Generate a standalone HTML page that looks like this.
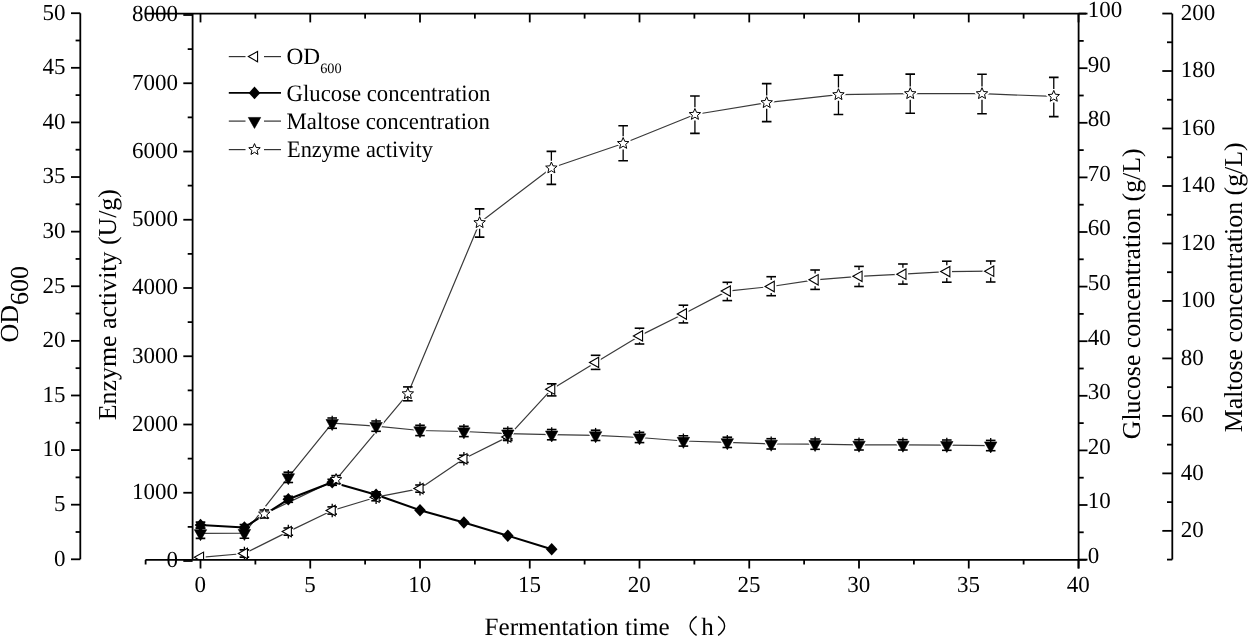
<!DOCTYPE html>
<html><head><meta charset="utf-8"><style>
html,body{margin:0;padding:0;background:#fff;width:1248px;height:637px;overflow:hidden}
svg{display:block;will-change:transform;text-rendering:geometricPrecision}
text{font-family:"Liberation Serif",serif}
</style></head><body>
<svg width="1248" height="637" viewBox="0 0 1248 637" font-family="Liberation Serif, serif" fill="#000"><defs><clipPath id="pc"><rect x="192.6" y="13.6" width="886" height="546.3"/></clipPath></defs><g clip-path="url(#pc)">
<polyline points="244.40,527.30 264.30,514.00 336.07,479.60 407.84,393.80 479.61,222.70 551.38,168.00 623.15,143.50 694.92,114.50 766.69,102.70 838.46,94.70 910.23,93.70 982.00,93.70 1053.77,96.40" fill="none" stroke="#3a3a3a" stroke-width="1.2" stroke-linejoin="round"/>
<polyline points="200.50,557.30 244.40,553.50 288.30,531.60 332.20,510.50 376.10,497.20 420.00,488.60 463.90,458.80 507.80,436.90 551.70,389.20 595.60,362.40 639.50,335.90 683.40,314.00 727.30,291.10 771.20,286.50 815.10,279.80 859.00,276.30 902.90,274.20 946.80,271.60 990.70,271.20" fill="none" stroke="#3a3a3a" stroke-width="1.2" stroke-linejoin="round"/>
<polyline points="200.50,533.30 244.40,533.10 288.30,477.40 332.20,423.20 376.10,426.20 420.00,430.50 463.90,431.50 507.80,433.70 551.70,434.70 595.60,435.40 639.50,437.50 683.40,441.00 727.30,442.40 771.20,443.90 815.10,444.20 859.00,444.90 902.90,444.90 946.80,445.20 990.70,445.60" fill="none" stroke="#3a3a3a" stroke-width="1.2" stroke-linejoin="round"/>
<polyline points="200.50,525.10 244.40,527.50 288.30,499.30 332.20,482.30 376.10,494.80 420.00,510.20 463.90,522.50 507.80,535.70 551.70,549.20" fill="none" stroke="#000" stroke-width="2.0" stroke-linejoin="round"/>
<path d="M194.37,557.30 L203.57,552.10 L203.57,562.50 Z" fill="#fff" stroke="#fff" stroke-width="4.2" stroke-linejoin="round"/>
<path d="M238.27,553.50 L247.47,548.30 L247.47,558.70 Z" fill="#fff" stroke="#fff" stroke-width="4.2" stroke-linejoin="round"/>
<path d="M282.17,531.60 L291.37,526.40 L291.37,536.80 Z" fill="#fff" stroke="#fff" stroke-width="4.2" stroke-linejoin="round"/>
<path d="M326.07,510.50 L335.27,505.30 L335.27,515.70 Z" fill="#fff" stroke="#fff" stroke-width="4.2" stroke-linejoin="round"/>
<path d="M369.97,497.20 L379.17,492.00 L379.17,502.40 Z" fill="#fff" stroke="#fff" stroke-width="4.2" stroke-linejoin="round"/>
<path d="M413.87,488.60 L423.07,483.40 L423.07,493.80 Z" fill="#fff" stroke="#fff" stroke-width="4.2" stroke-linejoin="round"/>
<path d="M457.77,458.80 L466.97,453.60 L466.97,464.00 Z" fill="#fff" stroke="#fff" stroke-width="4.2" stroke-linejoin="round"/>
<path d="M501.67,436.90 L510.87,431.70 L510.87,442.10 Z" fill="#fff" stroke="#fff" stroke-width="4.2" stroke-linejoin="round"/>
<path d="M545.57,389.20 L554.77,384.00 L554.77,394.40 Z" fill="#fff" stroke="#fff" stroke-width="4.2" stroke-linejoin="round"/>
<path d="M589.47,362.40 L598.67,357.20 L598.67,367.60 Z" fill="#fff" stroke="#fff" stroke-width="4.2" stroke-linejoin="round"/>
<path d="M633.37,335.90 L642.57,330.70 L642.57,341.10 Z" fill="#fff" stroke="#fff" stroke-width="4.2" stroke-linejoin="round"/>
<path d="M677.27,314.00 L686.47,308.80 L686.47,319.20 Z" fill="#fff" stroke="#fff" stroke-width="4.2" stroke-linejoin="round"/>
<path d="M721.17,291.10 L730.37,285.90 L730.37,296.30 Z" fill="#fff" stroke="#fff" stroke-width="4.2" stroke-linejoin="round"/>
<path d="M765.07,286.50 L774.27,281.30 L774.27,291.70 Z" fill="#fff" stroke="#fff" stroke-width="4.2" stroke-linejoin="round"/>
<path d="M808.97,279.80 L818.17,274.60 L818.17,285.00 Z" fill="#fff" stroke="#fff" stroke-width="4.2" stroke-linejoin="round"/>
<path d="M852.87,276.30 L862.07,271.10 L862.07,281.50 Z" fill="#fff" stroke="#fff" stroke-width="4.2" stroke-linejoin="round"/>
<path d="M896.77,274.20 L905.97,269.00 L905.97,279.40 Z" fill="#fff" stroke="#fff" stroke-width="4.2" stroke-linejoin="round"/>
<path d="M940.67,271.60 L949.87,266.40 L949.87,276.80 Z" fill="#fff" stroke="#fff" stroke-width="4.2" stroke-linejoin="round"/>
<path d="M984.57,271.20 L993.77,266.00 L993.77,276.40 Z" fill="#fff" stroke="#fff" stroke-width="4.2" stroke-linejoin="round"/>
<path d="M264.30,508.00 L265.89,511.82 L270.01,512.15 L266.87,514.83 L267.83,518.85 L264.30,516.70 L260.77,518.85 L261.73,514.83 L258.59,512.15 L262.71,511.82 Z" fill="#fff" stroke="#fff" stroke-width="4.2" stroke-linejoin="round"/>
<path d="M336.07,473.60 L337.66,477.42 L341.78,477.75 L338.64,480.43 L339.60,484.45 L336.07,482.30 L332.54,484.45 L333.50,480.43 L330.36,477.75 L334.48,477.42 Z" fill="#fff" stroke="#fff" stroke-width="4.2" stroke-linejoin="round"/>
<path d="M407.84,387.80 L409.43,391.62 L413.55,391.95 L410.41,394.63 L411.37,398.65 L407.84,396.50 L404.31,398.65 L405.27,394.63 L402.13,391.95 L406.25,391.62 Z" fill="#fff" stroke="#fff" stroke-width="4.2" stroke-linejoin="round"/>
<path d="M479.61,216.70 L481.20,220.52 L485.32,220.85 L482.18,223.53 L483.14,227.55 L479.61,225.40 L476.08,227.55 L477.04,223.53 L473.90,220.85 L478.02,220.52 Z" fill="#fff" stroke="#fff" stroke-width="4.2" stroke-linejoin="round"/>
<path d="M551.38,162.00 L552.97,165.82 L557.09,166.15 L553.95,168.83 L554.91,172.85 L551.38,170.70 L547.85,172.85 L548.81,168.83 L545.67,166.15 L549.79,165.82 Z" fill="#fff" stroke="#fff" stroke-width="4.2" stroke-linejoin="round"/>
<path d="M623.15,137.50 L624.74,141.32 L628.86,141.65 L625.72,144.33 L626.68,148.35 L623.15,146.20 L619.62,148.35 L620.58,144.33 L617.44,141.65 L621.56,141.32 Z" fill="#fff" stroke="#fff" stroke-width="4.2" stroke-linejoin="round"/>
<path d="M694.92,108.50 L696.51,112.32 L700.63,112.65 L697.49,115.33 L698.45,119.35 L694.92,117.20 L691.39,119.35 L692.35,115.33 L689.21,112.65 L693.33,112.32 Z" fill="#fff" stroke="#fff" stroke-width="4.2" stroke-linejoin="round"/>
<path d="M766.69,96.70 L768.28,100.52 L772.40,100.85 L769.26,103.53 L770.22,107.55 L766.69,105.40 L763.16,107.55 L764.12,103.53 L760.98,100.85 L765.10,100.52 Z" fill="#fff" stroke="#fff" stroke-width="4.2" stroke-linejoin="round"/>
<path d="M838.46,88.70 L840.05,92.52 L844.17,92.85 L841.03,95.53 L841.99,99.55 L838.46,97.40 L834.93,99.55 L835.89,95.53 L832.75,92.85 L836.87,92.52 Z" fill="#fff" stroke="#fff" stroke-width="4.2" stroke-linejoin="round"/>
<path d="M910.23,87.70 L911.82,91.52 L915.94,91.85 L912.80,94.53 L913.76,98.55 L910.23,96.40 L906.70,98.55 L907.66,94.53 L904.52,91.85 L908.64,91.52 Z" fill="#fff" stroke="#fff" stroke-width="4.2" stroke-linejoin="round"/>
<path d="M982.00,87.70 L983.59,91.52 L987.71,91.85 L984.57,94.53 L985.53,98.55 L982.00,96.40 L978.47,98.55 L979.43,94.53 L976.29,91.85 L980.41,91.52 Z" fill="#fff" stroke="#fff" stroke-width="4.2" stroke-linejoin="round"/>
<path d="M1053.77,90.40 L1055.36,94.22 L1059.48,94.55 L1056.34,97.23 L1057.30,101.25 L1053.77,99.10 L1050.24,101.25 L1051.20,97.23 L1048.06,94.55 L1052.18,94.22 Z" fill="#fff" stroke="#fff" stroke-width="4.2" stroke-linejoin="round"/>
<path d="M369.90,422.53 L382.30,422.53 L376.10,433.53 Z" stroke="#fff" stroke-width="3.2" stroke-linejoin="round" fill="#fff"/>
<path d="M413.80,426.83 L426.20,426.83 L420.00,437.83 Z" stroke="#fff" stroke-width="3.2" stroke-linejoin="round" fill="#fff"/>
<path d="M457.70,427.83 L470.10,427.83 L463.90,438.83 Z" stroke="#fff" stroke-width="3.2" stroke-linejoin="round" fill="#fff"/>
<path d="M501.60,430.03 L514.00,430.03 L507.80,441.03 Z" stroke="#fff" stroke-width="3.2" stroke-linejoin="round" fill="#fff"/>
<path d="M545.50,431.03 L557.90,431.03 L551.70,442.03 Z" stroke="#fff" stroke-width="3.2" stroke-linejoin="round" fill="#fff"/>
<path d="M589.40,431.73 L601.80,431.73 L595.60,442.73 Z" stroke="#fff" stroke-width="3.2" stroke-linejoin="round" fill="#fff"/>
<path d="M633.30,433.83 L645.70,433.83 L639.50,444.83 Z" stroke="#fff" stroke-width="3.2" stroke-linejoin="round" fill="#fff"/>
<path d="M677.20,437.33 L689.60,437.33 L683.40,448.33 Z" stroke="#fff" stroke-width="3.2" stroke-linejoin="round" fill="#fff"/>
<path d="M721.10,438.73 L733.50,438.73 L727.30,449.73 Z" stroke="#fff" stroke-width="3.2" stroke-linejoin="round" fill="#fff"/>
<path d="M765.00,440.23 L777.40,440.23 L771.20,451.23 Z" stroke="#fff" stroke-width="3.2" stroke-linejoin="round" fill="#fff"/>
<path d="M808.90,440.53 L821.30,440.53 L815.10,451.53 Z" stroke="#fff" stroke-width="3.2" stroke-linejoin="round" fill="#fff"/>
<path d="M852.80,441.23 L865.20,441.23 L859.00,452.23 Z" stroke="#fff" stroke-width="3.2" stroke-linejoin="round" fill="#fff"/>
<path d="M896.70,441.23 L909.10,441.23 L902.90,452.23 Z" stroke="#fff" stroke-width="3.2" stroke-linejoin="round" fill="#fff"/>
<path d="M940.60,441.53 L953.00,441.53 L946.80,452.53 Z" stroke="#fff" stroke-width="3.2" stroke-linejoin="round" fill="#fff"/>
<path d="M984.50,441.93 L996.90,441.93 L990.70,452.93 Z" stroke="#fff" stroke-width="3.2" stroke-linejoin="round" fill="#fff"/>
<line x1="244.40" y1="546.70" x2="244.40" y2="560.30" stroke="#000" stroke-width="1.3" />
<line x1="239.60" y1="549.90" x2="249.20" y2="549.90" stroke="#000" stroke-width="1.6" />
<line x1="239.60" y1="557.10" x2="249.20" y2="557.10" stroke="#000" stroke-width="1.6" />
<line x1="288.30" y1="524.80" x2="288.30" y2="538.40" stroke="#000" stroke-width="1.3" />
<line x1="283.50" y1="528.00" x2="293.10" y2="528.00" stroke="#000" stroke-width="1.6" />
<line x1="283.50" y1="535.20" x2="293.10" y2="535.20" stroke="#000" stroke-width="1.6" />
<line x1="332.20" y1="503.70" x2="332.20" y2="517.30" stroke="#000" stroke-width="1.3" />
<line x1="327.40" y1="506.90" x2="337.00" y2="506.90" stroke="#000" stroke-width="1.6" />
<line x1="327.40" y1="514.10" x2="337.00" y2="514.10" stroke="#000" stroke-width="1.6" />
<line x1="376.10" y1="490.40" x2="376.10" y2="504.00" stroke="#000" stroke-width="1.3" />
<line x1="371.30" y1="493.60" x2="380.90" y2="493.60" stroke="#000" stroke-width="1.6" />
<line x1="371.30" y1="500.80" x2="380.90" y2="500.80" stroke="#000" stroke-width="1.6" />
<line x1="420.00" y1="481.80" x2="420.00" y2="495.40" stroke="#000" stroke-width="1.3" />
<line x1="415.20" y1="485.00" x2="424.80" y2="485.00" stroke="#000" stroke-width="1.6" />
<line x1="415.20" y1="492.20" x2="424.80" y2="492.20" stroke="#000" stroke-width="1.6" />
<line x1="463.90" y1="452.00" x2="463.90" y2="465.60" stroke="#000" stroke-width="1.3" />
<line x1="459.10" y1="455.20" x2="468.70" y2="455.20" stroke="#000" stroke-width="1.6" />
<line x1="459.10" y1="462.40" x2="468.70" y2="462.40" stroke="#000" stroke-width="1.6" />
<line x1="507.80" y1="430.10" x2="507.80" y2="443.70" stroke="#000" stroke-width="1.3" />
<line x1="503.00" y1="433.30" x2="512.60" y2="433.30" stroke="#000" stroke-width="1.6" />
<line x1="503.00" y1="440.50" x2="512.60" y2="440.50" stroke="#000" stroke-width="1.6" />
<line x1="551.70" y1="383.80" x2="551.70" y2="395.90" stroke="#000" stroke-width="1.3" />
<line x1="546.90" y1="383.80" x2="556.50" y2="383.80" stroke="#000" stroke-width="1.6" />
<line x1="546.90" y1="395.90" x2="556.50" y2="395.90" stroke="#000" stroke-width="1.6" />
<line x1="595.60" y1="355.30" x2="595.60" y2="356.00" stroke="#000" stroke-width="1.3" />
<line x1="595.60" y1="368.80" x2="595.60" y2="369.40" stroke="#000" stroke-width="1.3" />
<line x1="590.80" y1="355.30" x2="600.40" y2="355.30" stroke="#000" stroke-width="1.6" />
<line x1="590.80" y1="369.40" x2="600.40" y2="369.40" stroke="#000" stroke-width="1.6" />
<line x1="639.50" y1="328.20" x2="639.50" y2="329.50" stroke="#000" stroke-width="1.3" />
<line x1="639.50" y1="342.30" x2="639.50" y2="344.00" stroke="#000" stroke-width="1.3" />
<line x1="634.70" y1="328.20" x2="644.30" y2="328.20" stroke="#000" stroke-width="1.6" />
<line x1="634.70" y1="344.00" x2="644.30" y2="344.00" stroke="#000" stroke-width="1.6" />
<line x1="683.40" y1="305.20" x2="683.40" y2="307.60" stroke="#000" stroke-width="1.3" />
<line x1="683.40" y1="320.40" x2="683.40" y2="322.90" stroke="#000" stroke-width="1.3" />
<line x1="678.60" y1="305.20" x2="688.20" y2="305.20" stroke="#000" stroke-width="1.6" />
<line x1="678.60" y1="322.90" x2="688.20" y2="322.90" stroke="#000" stroke-width="1.6" />
<line x1="727.30" y1="282.30" x2="727.30" y2="284.70" stroke="#000" stroke-width="1.3" />
<line x1="727.30" y1="297.50" x2="727.30" y2="300.60" stroke="#000" stroke-width="1.3" />
<line x1="722.50" y1="282.30" x2="732.10" y2="282.30" stroke="#000" stroke-width="1.6" />
<line x1="722.50" y1="300.60" x2="732.10" y2="300.60" stroke="#000" stroke-width="1.6" />
<line x1="771.20" y1="276.70" x2="771.20" y2="280.10" stroke="#000" stroke-width="1.3" />
<line x1="771.20" y1="292.90" x2="771.20" y2="295.70" stroke="#000" stroke-width="1.3" />
<line x1="766.40" y1="276.70" x2="776.00" y2="276.70" stroke="#000" stroke-width="1.6" />
<line x1="766.40" y1="295.70" x2="776.00" y2="295.70" stroke="#000" stroke-width="1.6" />
<line x1="815.10" y1="270.00" x2="815.10" y2="273.40" stroke="#000" stroke-width="1.3" />
<line x1="815.10" y1="286.20" x2="815.10" y2="289.40" stroke="#000" stroke-width="1.3" />
<line x1="810.30" y1="270.00" x2="819.90" y2="270.00" stroke="#000" stroke-width="1.6" />
<line x1="810.30" y1="289.40" x2="819.90" y2="289.40" stroke="#000" stroke-width="1.6" />
<line x1="859.00" y1="266.40" x2="859.00" y2="269.90" stroke="#000" stroke-width="1.3" />
<line x1="859.00" y1="282.70" x2="859.00" y2="286.50" stroke="#000" stroke-width="1.3" />
<line x1="854.20" y1="266.40" x2="863.80" y2="266.40" stroke="#000" stroke-width="1.6" />
<line x1="854.20" y1="286.50" x2="863.80" y2="286.50" stroke="#000" stroke-width="1.6" />
<line x1="902.90" y1="264.00" x2="902.90" y2="267.80" stroke="#000" stroke-width="1.3" />
<line x1="902.90" y1="280.60" x2="902.90" y2="284.10" stroke="#000" stroke-width="1.3" />
<line x1="898.10" y1="264.00" x2="907.70" y2="264.00" stroke="#000" stroke-width="1.6" />
<line x1="898.10" y1="284.10" x2="907.70" y2="284.10" stroke="#000" stroke-width="1.6" />
<line x1="946.80" y1="261.20" x2="946.80" y2="265.20" stroke="#000" stroke-width="1.3" />
<line x1="946.80" y1="278.00" x2="946.80" y2="282.20" stroke="#000" stroke-width="1.3" />
<line x1="942.00" y1="261.20" x2="951.60" y2="261.20" stroke="#000" stroke-width="1.6" />
<line x1="942.00" y1="282.20" x2="951.60" y2="282.20" stroke="#000" stroke-width="1.6" />
<line x1="990.70" y1="261.00" x2="990.70" y2="264.80" stroke="#000" stroke-width="1.3" />
<line x1="990.70" y1="277.60" x2="990.70" y2="282.00" stroke="#000" stroke-width="1.3" />
<line x1="985.90" y1="261.00" x2="995.50" y2="261.00" stroke="#000" stroke-width="1.6" />
<line x1="985.90" y1="282.00" x2="995.50" y2="282.00" stroke="#000" stroke-width="1.6" />
<line x1="200.50" y1="525.80" x2="200.50" y2="538.40" stroke="#000" stroke-width="1.3" />
<line x1="195.70" y1="528.10" x2="205.30" y2="528.10" stroke="#000" stroke-width="1.6" />
<line x1="195.70" y1="538.40" x2="205.30" y2="538.40" stroke="#000" stroke-width="1.6" />
<line x1="244.40" y1="525.60" x2="244.40" y2="538.20" stroke="#000" stroke-width="1.3" />
<line x1="239.60" y1="527.90" x2="249.20" y2="527.90" stroke="#000" stroke-width="1.6" />
<line x1="239.60" y1="538.20" x2="249.20" y2="538.20" stroke="#000" stroke-width="1.6" />
<line x1="288.30" y1="469.90" x2="288.30" y2="482.50" stroke="#000" stroke-width="1.3" />
<line x1="283.50" y1="472.20" x2="293.10" y2="472.20" stroke="#000" stroke-width="1.6" />
<line x1="283.50" y1="482.50" x2="293.10" y2="482.50" stroke="#000" stroke-width="1.6" />
<line x1="332.20" y1="415.70" x2="332.20" y2="428.30" stroke="#000" stroke-width="1.3" />
<line x1="327.40" y1="418.00" x2="337.00" y2="418.00" stroke="#000" stroke-width="1.6" />
<line x1="327.40" y1="428.30" x2="337.00" y2="428.30" stroke="#000" stroke-width="1.6" />
<line x1="376.10" y1="418.70" x2="376.10" y2="431.30" stroke="#000" stroke-width="1.3" />
<line x1="371.30" y1="421.00" x2="380.90" y2="421.00" stroke="#000" stroke-width="1.6" />
<line x1="371.30" y1="431.30" x2="380.90" y2="431.30" stroke="#000" stroke-width="1.6" />
<line x1="420.00" y1="423.00" x2="420.00" y2="435.60" stroke="#000" stroke-width="1.3" />
<line x1="415.20" y1="425.30" x2="424.80" y2="425.30" stroke="#000" stroke-width="1.6" />
<line x1="415.20" y1="435.60" x2="424.80" y2="435.60" stroke="#000" stroke-width="1.6" />
<line x1="463.90" y1="424.00" x2="463.90" y2="436.60" stroke="#000" stroke-width="1.3" />
<line x1="459.10" y1="426.30" x2="468.70" y2="426.30" stroke="#000" stroke-width="1.6" />
<line x1="459.10" y1="436.60" x2="468.70" y2="436.60" stroke="#000" stroke-width="1.6" />
<line x1="507.80" y1="426.20" x2="507.80" y2="438.80" stroke="#000" stroke-width="1.3" />
<line x1="503.00" y1="428.50" x2="512.60" y2="428.50" stroke="#000" stroke-width="1.6" />
<line x1="503.00" y1="438.80" x2="512.60" y2="438.80" stroke="#000" stroke-width="1.6" />
<line x1="551.70" y1="427.20" x2="551.70" y2="439.80" stroke="#000" stroke-width="1.3" />
<line x1="546.90" y1="429.50" x2="556.50" y2="429.50" stroke="#000" stroke-width="1.6" />
<line x1="546.90" y1="439.80" x2="556.50" y2="439.80" stroke="#000" stroke-width="1.6" />
<line x1="595.60" y1="427.90" x2="595.60" y2="440.50" stroke="#000" stroke-width="1.3" />
<line x1="590.80" y1="430.20" x2="600.40" y2="430.20" stroke="#000" stroke-width="1.6" />
<line x1="590.80" y1="440.50" x2="600.40" y2="440.50" stroke="#000" stroke-width="1.6" />
<line x1="639.50" y1="430.00" x2="639.50" y2="442.60" stroke="#000" stroke-width="1.3" />
<line x1="634.70" y1="432.30" x2="644.30" y2="432.30" stroke="#000" stroke-width="1.6" />
<line x1="634.70" y1="442.60" x2="644.30" y2="442.60" stroke="#000" stroke-width="1.6" />
<line x1="683.40" y1="433.50" x2="683.40" y2="446.10" stroke="#000" stroke-width="1.3" />
<line x1="678.60" y1="435.80" x2="688.20" y2="435.80" stroke="#000" stroke-width="1.6" />
<line x1="678.60" y1="446.10" x2="688.20" y2="446.10" stroke="#000" stroke-width="1.6" />
<line x1="727.30" y1="434.90" x2="727.30" y2="447.50" stroke="#000" stroke-width="1.3" />
<line x1="722.50" y1="437.20" x2="732.10" y2="437.20" stroke="#000" stroke-width="1.6" />
<line x1="722.50" y1="447.50" x2="732.10" y2="447.50" stroke="#000" stroke-width="1.6" />
<line x1="771.20" y1="436.40" x2="771.20" y2="449.00" stroke="#000" stroke-width="1.3" />
<line x1="766.40" y1="438.70" x2="776.00" y2="438.70" stroke="#000" stroke-width="1.6" />
<line x1="766.40" y1="449.00" x2="776.00" y2="449.00" stroke="#000" stroke-width="1.6" />
<line x1="815.10" y1="436.70" x2="815.10" y2="449.30" stroke="#000" stroke-width="1.3" />
<line x1="810.30" y1="439.00" x2="819.90" y2="439.00" stroke="#000" stroke-width="1.6" />
<line x1="810.30" y1="449.30" x2="819.90" y2="449.30" stroke="#000" stroke-width="1.6" />
<line x1="859.00" y1="437.40" x2="859.00" y2="450.00" stroke="#000" stroke-width="1.3" />
<line x1="854.20" y1="439.70" x2="863.80" y2="439.70" stroke="#000" stroke-width="1.6" />
<line x1="854.20" y1="450.00" x2="863.80" y2="450.00" stroke="#000" stroke-width="1.6" />
<line x1="902.90" y1="437.40" x2="902.90" y2="450.00" stroke="#000" stroke-width="1.3" />
<line x1="898.10" y1="439.70" x2="907.70" y2="439.70" stroke="#000" stroke-width="1.6" />
<line x1="898.10" y1="450.00" x2="907.70" y2="450.00" stroke="#000" stroke-width="1.6" />
<line x1="946.80" y1="437.70" x2="946.80" y2="450.30" stroke="#000" stroke-width="1.3" />
<line x1="942.00" y1="440.00" x2="951.60" y2="440.00" stroke="#000" stroke-width="1.6" />
<line x1="942.00" y1="450.30" x2="951.60" y2="450.30" stroke="#000" stroke-width="1.6" />
<line x1="990.70" y1="438.10" x2="990.70" y2="450.70" stroke="#000" stroke-width="1.3" />
<line x1="985.90" y1="440.40" x2="995.50" y2="440.40" stroke="#000" stroke-width="1.6" />
<line x1="985.90" y1="450.70" x2="995.50" y2="450.70" stroke="#000" stroke-width="1.6" />
<line x1="200.50" y1="522.10" x2="200.50" y2="528.10" stroke="#000" stroke-width="1.3" />
<line x1="195.70" y1="522.10" x2="205.30" y2="522.10" stroke="#000" stroke-width="1.6" />
<line x1="195.70" y1="528.10" x2="205.30" y2="528.10" stroke="#000" stroke-width="1.6" />
<line x1="244.40" y1="524.50" x2="244.40" y2="530.50" stroke="#000" stroke-width="1.3" />
<line x1="239.60" y1="524.50" x2="249.20" y2="524.50" stroke="#000" stroke-width="1.6" />
<line x1="239.60" y1="530.50" x2="249.20" y2="530.50" stroke="#000" stroke-width="1.6" />
<line x1="288.30" y1="496.30" x2="288.30" y2="502.30" stroke="#000" stroke-width="1.3" />
<line x1="283.50" y1="496.30" x2="293.10" y2="496.30" stroke="#000" stroke-width="1.6" />
<line x1="283.50" y1="502.30" x2="293.10" y2="502.30" stroke="#000" stroke-width="1.6" />
<line x1="332.20" y1="479.30" x2="332.20" y2="485.30" stroke="#000" stroke-width="1.3" />
<line x1="327.40" y1="479.30" x2="337.00" y2="479.30" stroke="#000" stroke-width="1.6" />
<line x1="327.40" y1="485.30" x2="337.00" y2="485.30" stroke="#000" stroke-width="1.6" />
<line x1="376.10" y1="491.80" x2="376.10" y2="497.80" stroke="#000" stroke-width="1.3" />
<line x1="371.30" y1="491.80" x2="380.90" y2="491.80" stroke="#000" stroke-width="1.6" />
<line x1="371.30" y1="497.80" x2="380.90" y2="497.80" stroke="#000" stroke-width="1.6" />
<line x1="407.84" y1="386.90" x2="407.84" y2="400.80" stroke="#000" stroke-width="1.3" />
<line x1="403.04" y1="386.90" x2="412.64" y2="386.90" stroke="#000" stroke-width="1.6" />
<line x1="403.04" y1="400.80" x2="412.64" y2="400.80" stroke="#000" stroke-width="1.6" />
<line x1="479.61" y1="208.90" x2="479.61" y2="215.40" stroke="#000" stroke-width="1.3" />
<line x1="479.61" y1="228.80" x2="479.61" y2="237.10" stroke="#000" stroke-width="1.3" />
<line x1="474.81" y1="208.90" x2="484.41" y2="208.90" stroke="#000" stroke-width="1.6" />
<line x1="474.81" y1="237.10" x2="484.41" y2="237.10" stroke="#000" stroke-width="1.6" />
<line x1="551.38" y1="151.40" x2="551.38" y2="160.70" stroke="#000" stroke-width="1.3" />
<line x1="551.38" y1="174.10" x2="551.38" y2="184.40" stroke="#000" stroke-width="1.3" />
<line x1="546.58" y1="151.40" x2="556.18" y2="151.40" stroke="#000" stroke-width="1.6" />
<line x1="546.58" y1="184.40" x2="556.18" y2="184.40" stroke="#000" stroke-width="1.6" />
<line x1="623.15" y1="125.70" x2="623.15" y2="136.20" stroke="#000" stroke-width="1.3" />
<line x1="623.15" y1="149.60" x2="623.15" y2="160.80" stroke="#000" stroke-width="1.3" />
<line x1="618.35" y1="125.70" x2="627.95" y2="125.70" stroke="#000" stroke-width="1.6" />
<line x1="618.35" y1="160.80" x2="627.95" y2="160.80" stroke="#000" stroke-width="1.6" />
<line x1="694.92" y1="96.00" x2="694.92" y2="107.20" stroke="#000" stroke-width="1.3" />
<line x1="694.92" y1="120.60" x2="694.92" y2="133.40" stroke="#000" stroke-width="1.3" />
<line x1="690.12" y1="96.00" x2="699.72" y2="96.00" stroke="#000" stroke-width="1.6" />
<line x1="690.12" y1="133.40" x2="699.72" y2="133.40" stroke="#000" stroke-width="1.6" />
<line x1="766.69" y1="83.60" x2="766.69" y2="95.40" stroke="#000" stroke-width="1.3" />
<line x1="766.69" y1="108.80" x2="766.69" y2="121.60" stroke="#000" stroke-width="1.3" />
<line x1="761.89" y1="83.60" x2="771.49" y2="83.60" stroke="#000" stroke-width="1.6" />
<line x1="761.89" y1="121.60" x2="771.49" y2="121.60" stroke="#000" stroke-width="1.6" />
<line x1="838.46" y1="75.10" x2="838.46" y2="87.40" stroke="#000" stroke-width="1.3" />
<line x1="838.46" y1="100.80" x2="838.46" y2="114.50" stroke="#000" stroke-width="1.3" />
<line x1="833.66" y1="75.10" x2="843.26" y2="75.10" stroke="#000" stroke-width="1.6" />
<line x1="833.66" y1="114.50" x2="843.26" y2="114.50" stroke="#000" stroke-width="1.6" />
<line x1="910.23" y1="74.10" x2="910.23" y2="86.40" stroke="#000" stroke-width="1.3" />
<line x1="910.23" y1="99.80" x2="910.23" y2="113.20" stroke="#000" stroke-width="1.3" />
<line x1="905.43" y1="74.10" x2="915.03" y2="74.10" stroke="#000" stroke-width="1.6" />
<line x1="905.43" y1="113.20" x2="915.03" y2="113.20" stroke="#000" stroke-width="1.6" />
<line x1="982.00" y1="74.20" x2="982.00" y2="86.40" stroke="#000" stroke-width="1.3" />
<line x1="982.00" y1="99.80" x2="982.00" y2="113.70" stroke="#000" stroke-width="1.3" />
<line x1="977.20" y1="74.20" x2="986.80" y2="74.20" stroke="#000" stroke-width="1.6" />
<line x1="977.20" y1="113.70" x2="986.80" y2="113.70" stroke="#000" stroke-width="1.6" />
<line x1="1053.77" y1="77.40" x2="1053.77" y2="89.10" stroke="#000" stroke-width="1.3" />
<line x1="1053.77" y1="102.50" x2="1053.77" y2="116.60" stroke="#000" stroke-width="1.3" />
<line x1="1048.97" y1="77.40" x2="1058.57" y2="77.40" stroke="#000" stroke-width="1.6" />
<line x1="1048.97" y1="116.60" x2="1058.57" y2="116.60" stroke="#000" stroke-width="1.6" />
<line x1="264.30" y1="510.00" x2="264.30" y2="518.00" stroke="#000" stroke-width="1.3" />
<line x1="259.50" y1="510.00" x2="269.10" y2="510.00" stroke="#000" stroke-width="1.6" />
<line x1="259.50" y1="518.00" x2="269.10" y2="518.00" stroke="#000" stroke-width="1.6" />
<line x1="336.07" y1="475.60" x2="336.07" y2="483.60" stroke="#000" stroke-width="1.3" />
<line x1="331.27" y1="475.60" x2="340.87" y2="475.60" stroke="#000" stroke-width="1.6" />
<line x1="331.27" y1="483.60" x2="340.87" y2="483.60" stroke="#000" stroke-width="1.6" />
<path d="M194.37,557.30 L203.57,552.10 L203.57,562.50 Z" fill="#fff" stroke="#000" stroke-width="1.1"/>
<path d="M238.27,553.50 L247.47,548.30 L247.47,558.70 Z" fill="#fff" stroke="#000" stroke-width="1.1"/>
<path d="M282.17,531.60 L291.37,526.40 L291.37,536.80 Z" fill="#fff" stroke="#000" stroke-width="1.1"/>
<path d="M326.07,510.50 L335.27,505.30 L335.27,515.70 Z" fill="#fff" stroke="#000" stroke-width="1.1"/>
<path d="M369.97,497.20 L379.17,492.00 L379.17,502.40 Z" fill="#fff" stroke="#000" stroke-width="1.1"/>
<path d="M413.87,488.60 L423.07,483.40 L423.07,493.80 Z" fill="#fff" stroke="#000" stroke-width="1.1"/>
<path d="M457.77,458.80 L466.97,453.60 L466.97,464.00 Z" fill="#fff" stroke="#000" stroke-width="1.1"/>
<path d="M501.67,436.90 L510.87,431.70 L510.87,442.10 Z" fill="#fff" stroke="#000" stroke-width="1.1"/>
<path d="M545.57,389.20 L554.77,384.00 L554.77,394.40 Z" fill="#fff" stroke="#000" stroke-width="1.1"/>
<path d="M589.47,362.40 L598.67,357.20 L598.67,367.60 Z" fill="#fff" stroke="#000" stroke-width="1.1"/>
<path d="M633.37,335.90 L642.57,330.70 L642.57,341.10 Z" fill="#fff" stroke="#000" stroke-width="1.1"/>
<path d="M677.27,314.00 L686.47,308.80 L686.47,319.20 Z" fill="#fff" stroke="#000" stroke-width="1.1"/>
<path d="M721.17,291.10 L730.37,285.90 L730.37,296.30 Z" fill="#fff" stroke="#000" stroke-width="1.1"/>
<path d="M765.07,286.50 L774.27,281.30 L774.27,291.70 Z" fill="#fff" stroke="#000" stroke-width="1.1"/>
<path d="M808.97,279.80 L818.17,274.60 L818.17,285.00 Z" fill="#fff" stroke="#000" stroke-width="1.1"/>
<path d="M852.87,276.30 L862.07,271.10 L862.07,281.50 Z" fill="#fff" stroke="#000" stroke-width="1.1"/>
<path d="M896.77,274.20 L905.97,269.00 L905.97,279.40 Z" fill="#fff" stroke="#000" stroke-width="1.1"/>
<path d="M940.67,271.60 L949.87,266.40 L949.87,276.80 Z" fill="#fff" stroke="#000" stroke-width="1.1"/>
<path d="M984.57,271.20 L993.77,266.00 L993.77,276.40 Z" fill="#fff" stroke="#000" stroke-width="1.1"/>
<path d="M194.30,529.63 L206.70,529.63 L200.50,540.63 Z" fill="#000" stroke="#000" stroke-width="0.6"/>
<path d="M238.20,529.43 L250.60,529.43 L244.40,540.43 Z" fill="#000" stroke="#000" stroke-width="0.6"/>
<path d="M282.10,473.73 L294.50,473.73 L288.30,484.73 Z" fill="#000" stroke="#000" stroke-width="0.6"/>
<path d="M326.00,419.53 L338.40,419.53 L332.20,430.53 Z" fill="#000" stroke="#000" stroke-width="0.6"/>
<path d="M369.90,422.53 L382.30,422.53 L376.10,433.53 Z" fill="#000" stroke="#000" stroke-width="0.6"/>
<path d="M413.80,426.83 L426.20,426.83 L420.00,437.83 Z" fill="#000" stroke="#000" stroke-width="0.6"/>
<path d="M457.70,427.83 L470.10,427.83 L463.90,438.83 Z" fill="#000" stroke="#000" stroke-width="0.6"/>
<path d="M501.60,430.03 L514.00,430.03 L507.80,441.03 Z" fill="#000" stroke="#000" stroke-width="0.6"/>
<path d="M545.50,431.03 L557.90,431.03 L551.70,442.03 Z" fill="#000" stroke="#000" stroke-width="0.6"/>
<path d="M589.40,431.73 L601.80,431.73 L595.60,442.73 Z" fill="#000" stroke="#000" stroke-width="0.6"/>
<path d="M633.30,433.83 L645.70,433.83 L639.50,444.83 Z" fill="#000" stroke="#000" stroke-width="0.6"/>
<path d="M677.20,437.33 L689.60,437.33 L683.40,448.33 Z" fill="#000" stroke="#000" stroke-width="0.6"/>
<path d="M721.10,438.73 L733.50,438.73 L727.30,449.73 Z" fill="#000" stroke="#000" stroke-width="0.6"/>
<path d="M765.00,440.23 L777.40,440.23 L771.20,451.23 Z" fill="#000" stroke="#000" stroke-width="0.6"/>
<path d="M808.90,440.53 L821.30,440.53 L815.10,451.53 Z" fill="#000" stroke="#000" stroke-width="0.6"/>
<path d="M852.80,441.23 L865.20,441.23 L859.00,452.23 Z" fill="#000" stroke="#000" stroke-width="0.6"/>
<path d="M896.70,441.23 L909.10,441.23 L902.90,452.23 Z" fill="#000" stroke="#000" stroke-width="0.6"/>
<path d="M940.60,441.53 L953.00,441.53 L946.80,452.53 Z" fill="#000" stroke="#000" stroke-width="0.6"/>
<path d="M984.50,441.93 L996.90,441.93 L990.70,452.93 Z" fill="#000" stroke="#000" stroke-width="0.6"/>
<path d="M200.50,518.80 L206.30,525.10 L200.50,531.40 L194.70,525.10 Z" fill="#000"/>
<path d="M244.40,521.20 L250.20,527.50 L244.40,533.80 L238.60,527.50 Z" fill="#000"/>
<path d="M288.30,493.00 L294.10,499.30 L288.30,505.60 L282.50,499.30 Z" fill="#000"/>
<path d="M332.20,476.00 L338.00,482.30 L332.20,488.60 L326.40,482.30 Z" fill="#000"/>
<path d="M376.10,488.50 L381.90,494.80 L376.10,501.10 L370.30,494.80 Z" fill="#000"/>
<path d="M420.00,503.90 L425.80,510.20 L420.00,516.50 L414.20,510.20 Z" fill="#000"/>
<path d="M463.90,516.20 L469.70,522.50 L463.90,528.80 L458.10,522.50 Z" fill="#000"/>
<path d="M507.80,529.40 L513.60,535.70 L507.80,542.00 L502.00,535.70 Z" fill="#000"/>
<path d="M551.70,542.90 L557.50,549.20 L551.70,555.50 L545.90,549.20 Z" fill="#000"/>
<path d="M264.30,508.00 L265.89,511.82 L270.01,512.15 L266.87,514.83 L267.83,518.85 L264.30,516.70 L260.77,518.85 L261.73,514.83 L258.59,512.15 L262.71,511.82 Z" fill="#fff" stroke="#000" stroke-width="1"/>
<path d="M336.07,473.60 L337.66,477.42 L341.78,477.75 L338.64,480.43 L339.60,484.45 L336.07,482.30 L332.54,484.45 L333.50,480.43 L330.36,477.75 L334.48,477.42 Z" fill="#fff" stroke="#000" stroke-width="1"/>
<path d="M407.84,387.80 L409.43,391.62 L413.55,391.95 L410.41,394.63 L411.37,398.65 L407.84,396.50 L404.31,398.65 L405.27,394.63 L402.13,391.95 L406.25,391.62 Z" fill="#fff" stroke="#000" stroke-width="1"/>
<path d="M479.61,216.70 L481.20,220.52 L485.32,220.85 L482.18,223.53 L483.14,227.55 L479.61,225.40 L476.08,227.55 L477.04,223.53 L473.90,220.85 L478.02,220.52 Z" fill="#fff" stroke="#000" stroke-width="1"/>
<path d="M551.38,162.00 L552.97,165.82 L557.09,166.15 L553.95,168.83 L554.91,172.85 L551.38,170.70 L547.85,172.85 L548.81,168.83 L545.67,166.15 L549.79,165.82 Z" fill="#fff" stroke="#000" stroke-width="1"/>
<path d="M623.15,137.50 L624.74,141.32 L628.86,141.65 L625.72,144.33 L626.68,148.35 L623.15,146.20 L619.62,148.35 L620.58,144.33 L617.44,141.65 L621.56,141.32 Z" fill="#fff" stroke="#000" stroke-width="1"/>
<path d="M694.92,108.50 L696.51,112.32 L700.63,112.65 L697.49,115.33 L698.45,119.35 L694.92,117.20 L691.39,119.35 L692.35,115.33 L689.21,112.65 L693.33,112.32 Z" fill="#fff" stroke="#000" stroke-width="1"/>
<path d="M766.69,96.70 L768.28,100.52 L772.40,100.85 L769.26,103.53 L770.22,107.55 L766.69,105.40 L763.16,107.55 L764.12,103.53 L760.98,100.85 L765.10,100.52 Z" fill="#fff" stroke="#000" stroke-width="1"/>
<path d="M838.46,88.70 L840.05,92.52 L844.17,92.85 L841.03,95.53 L841.99,99.55 L838.46,97.40 L834.93,99.55 L835.89,95.53 L832.75,92.85 L836.87,92.52 Z" fill="#fff" stroke="#000" stroke-width="1"/>
<path d="M910.23,87.70 L911.82,91.52 L915.94,91.85 L912.80,94.53 L913.76,98.55 L910.23,96.40 L906.70,98.55 L907.66,94.53 L904.52,91.85 L908.64,91.52 Z" fill="#fff" stroke="#000" stroke-width="1"/>
<path d="M982.00,87.70 L983.59,91.52 L987.71,91.85 L984.57,94.53 L985.53,98.55 L982.00,96.40 L978.47,98.55 L979.43,94.53 L976.29,91.85 L980.41,91.52 Z" fill="#fff" stroke="#000" stroke-width="1"/>
<path d="M1053.77,90.40 L1055.36,94.22 L1059.48,94.55 L1056.34,97.23 L1057.30,101.25 L1053.77,99.10 L1050.24,101.25 L1051.20,97.23 L1048.06,94.55 L1052.18,94.22 Z" fill="#fff" stroke="#000" stroke-width="1"/>
</g>
<line x1="145.50" y1="13.60" x2="1086.00" y2="13.60" stroke="#000" stroke-width="1.8" />
<line x1="145.40" y1="559.90" x2="1086.50" y2="559.90" stroke="#000" stroke-width="1.8" />
<line x1="192.60" y1="13.60" x2="192.60" y2="559.90" stroke="#000" stroke-width="1.8" />
<line x1="1078.60" y1="13.60" x2="1078.60" y2="568.50" stroke="#000" stroke-width="1.8" />
<line x1="80.30" y1="13.20" x2="80.30" y2="559.30" stroke="#000" stroke-width="1.8" />
<line x1="1172.30" y1="13.60" x2="1172.30" y2="559.60" stroke="#000" stroke-width="1.8" />
<line x1="145.62" y1="559.90" x2="145.62" y2="564.50" stroke="#000" stroke-width="1.8" />
<line x1="200.50" y1="559.90" x2="200.50" y2="568.50" stroke="#000" stroke-width="1.8" />
<line x1="200.50" y1="13.60" x2="200.50" y2="22.40" stroke="#000" stroke-width="1.8" />
<line x1="255.38" y1="559.90" x2="255.38" y2="564.50" stroke="#000" stroke-width="1.8" />
<line x1="255.38" y1="13.60" x2="255.38" y2="18.60" stroke="#000" stroke-width="1.8" />
<line x1="310.25" y1="559.90" x2="310.25" y2="568.50" stroke="#000" stroke-width="1.8" />
<line x1="310.25" y1="13.60" x2="310.25" y2="22.40" stroke="#000" stroke-width="1.8" />
<line x1="365.12" y1="559.90" x2="365.12" y2="564.50" stroke="#000" stroke-width="1.8" />
<line x1="365.12" y1="13.60" x2="365.12" y2="18.60" stroke="#000" stroke-width="1.8" />
<line x1="420.00" y1="559.90" x2="420.00" y2="568.50" stroke="#000" stroke-width="1.8" />
<line x1="420.00" y1="13.60" x2="420.00" y2="22.40" stroke="#000" stroke-width="1.8" />
<line x1="474.88" y1="559.90" x2="474.88" y2="564.50" stroke="#000" stroke-width="1.8" />
<line x1="474.88" y1="13.60" x2="474.88" y2="18.60" stroke="#000" stroke-width="1.8" />
<line x1="529.75" y1="559.90" x2="529.75" y2="568.50" stroke="#000" stroke-width="1.8" />
<line x1="529.75" y1="13.60" x2="529.75" y2="22.40" stroke="#000" stroke-width="1.8" />
<line x1="584.62" y1="559.90" x2="584.62" y2="564.50" stroke="#000" stroke-width="1.8" />
<line x1="584.62" y1="13.60" x2="584.62" y2="18.60" stroke="#000" stroke-width="1.8" />
<line x1="639.50" y1="559.90" x2="639.50" y2="568.50" stroke="#000" stroke-width="1.8" />
<line x1="639.50" y1="13.60" x2="639.50" y2="22.40" stroke="#000" stroke-width="1.8" />
<line x1="694.38" y1="559.90" x2="694.38" y2="564.50" stroke="#000" stroke-width="1.8" />
<line x1="694.38" y1="13.60" x2="694.38" y2="18.60" stroke="#000" stroke-width="1.8" />
<line x1="749.25" y1="559.90" x2="749.25" y2="568.50" stroke="#000" stroke-width="1.8" />
<line x1="749.25" y1="13.60" x2="749.25" y2="22.40" stroke="#000" stroke-width="1.8" />
<line x1="804.12" y1="559.90" x2="804.12" y2="564.50" stroke="#000" stroke-width="1.8" />
<line x1="804.12" y1="13.60" x2="804.12" y2="18.60" stroke="#000" stroke-width="1.8" />
<line x1="859.00" y1="559.90" x2="859.00" y2="568.50" stroke="#000" stroke-width="1.8" />
<line x1="859.00" y1="13.60" x2="859.00" y2="22.40" stroke="#000" stroke-width="1.8" />
<line x1="913.88" y1="559.90" x2="913.88" y2="564.50" stroke="#000" stroke-width="1.8" />
<line x1="913.88" y1="13.60" x2="913.88" y2="18.60" stroke="#000" stroke-width="1.8" />
<line x1="968.75" y1="559.90" x2="968.75" y2="568.50" stroke="#000" stroke-width="1.8" />
<line x1="968.75" y1="13.60" x2="968.75" y2="22.40" stroke="#000" stroke-width="1.8" />
<line x1="1023.62" y1="559.90" x2="1023.62" y2="564.50" stroke="#000" stroke-width="1.8" />
<line x1="1023.62" y1="13.60" x2="1023.62" y2="18.60" stroke="#000" stroke-width="1.8" />
<line x1="1078.50" y1="559.90" x2="1078.50" y2="568.50" stroke="#000" stroke-width="1.8" />
<line x1="1078.50" y1="13.60" x2="1078.50" y2="22.40" stroke="#000" stroke-width="1.8" />
<text x="200.20" y="591.70" font-size="23" text-anchor="middle" >0</text>
<text x="309.95" y="591.70" font-size="23" text-anchor="middle" >5</text>
<text x="419.70" y="591.70" font-size="23" text-anchor="middle" >10</text>
<text x="529.45" y="591.70" font-size="23" text-anchor="middle" >15</text>
<text x="639.20" y="591.70" font-size="23" text-anchor="middle" >20</text>
<text x="748.95" y="591.70" font-size="23" text-anchor="middle" >25</text>
<text x="858.70" y="591.70" font-size="23" text-anchor="middle" >30</text>
<text x="968.45" y="591.70" font-size="23" text-anchor="middle" >35</text>
<text x="1078.20" y="591.70" font-size="23" text-anchor="middle" >40</text>
<line x1="71.00" y1="559.30" x2="80.30" y2="559.30" stroke="#000" stroke-width="1.8" />
<text x="65.60" y="565.70" font-size="23" text-anchor="end" >0</text>
<line x1="75.60" y1="532.00" x2="80.30" y2="532.00" stroke="#000" stroke-width="1.8" />
<line x1="71.00" y1="504.69" x2="80.30" y2="504.69" stroke="#000" stroke-width="1.8" />
<text x="65.60" y="511.09" font-size="23" text-anchor="end" >5</text>
<line x1="75.60" y1="477.38" x2="80.30" y2="477.38" stroke="#000" stroke-width="1.8" />
<line x1="71.00" y1="450.08" x2="80.30" y2="450.08" stroke="#000" stroke-width="1.8" />
<text x="65.60" y="456.48" font-size="23" text-anchor="end" >10</text>
<line x1="75.60" y1="422.77" x2="80.30" y2="422.77" stroke="#000" stroke-width="1.8" />
<line x1="71.00" y1="395.47" x2="80.30" y2="395.47" stroke="#000" stroke-width="1.8" />
<text x="65.60" y="401.87" font-size="23" text-anchor="end" >15</text>
<line x1="75.60" y1="368.16" x2="80.30" y2="368.16" stroke="#000" stroke-width="1.8" />
<line x1="71.00" y1="340.86" x2="80.30" y2="340.86" stroke="#000" stroke-width="1.8" />
<text x="65.60" y="347.26" font-size="23" text-anchor="end" >20</text>
<line x1="75.60" y1="313.55" x2="80.30" y2="313.55" stroke="#000" stroke-width="1.8" />
<line x1="71.00" y1="286.25" x2="80.30" y2="286.25" stroke="#000" stroke-width="1.8" />
<text x="65.60" y="292.65" font-size="23" text-anchor="end" >25</text>
<line x1="75.60" y1="258.94" x2="80.30" y2="258.94" stroke="#000" stroke-width="1.8" />
<line x1="71.00" y1="231.64" x2="80.30" y2="231.64" stroke="#000" stroke-width="1.8" />
<text x="65.60" y="238.04" font-size="23" text-anchor="end" >30</text>
<line x1="75.60" y1="204.33" x2="80.30" y2="204.33" stroke="#000" stroke-width="1.8" />
<line x1="71.00" y1="177.03" x2="80.30" y2="177.03" stroke="#000" stroke-width="1.8" />
<text x="65.60" y="183.43" font-size="23" text-anchor="end" >35</text>
<line x1="75.60" y1="149.72" x2="80.30" y2="149.72" stroke="#000" stroke-width="1.8" />
<line x1="71.00" y1="122.42" x2="80.30" y2="122.42" stroke="#000" stroke-width="1.8" />
<text x="65.60" y="128.82" font-size="23" text-anchor="end" >40</text>
<line x1="75.60" y1="95.11" x2="80.30" y2="95.11" stroke="#000" stroke-width="1.8" />
<line x1="71.00" y1="67.81" x2="80.30" y2="67.81" stroke="#000" stroke-width="1.8" />
<text x="65.60" y="74.21" font-size="23" text-anchor="end" >45</text>
<line x1="75.60" y1="40.50" x2="80.30" y2="40.50" stroke="#000" stroke-width="1.8" />
<line x1="71.00" y1="13.20" x2="80.30" y2="13.20" stroke="#000" stroke-width="1.8" />
<text x="65.60" y="19.60" font-size="23" text-anchor="end" >50</text>
<line x1="183.30" y1="561.00" x2="192.60" y2="561.00" stroke="#000" stroke-width="1.8" />
<text x="178.00" y="567.40" font-size="23" text-anchor="end" >0</text>
<line x1="187.70" y1="526.88" x2="192.60" y2="526.88" stroke="#000" stroke-width="1.8" />
<line x1="183.30" y1="492.75" x2="192.60" y2="492.75" stroke="#000" stroke-width="1.8" />
<text x="178.00" y="499.15" font-size="23" text-anchor="end" >1000</text>
<line x1="187.70" y1="458.62" x2="192.60" y2="458.62" stroke="#000" stroke-width="1.8" />
<line x1="183.30" y1="424.50" x2="192.60" y2="424.50" stroke="#000" stroke-width="1.8" />
<text x="178.00" y="430.90" font-size="23" text-anchor="end" >2000</text>
<line x1="187.70" y1="390.38" x2="192.60" y2="390.38" stroke="#000" stroke-width="1.8" />
<line x1="183.30" y1="356.25" x2="192.60" y2="356.25" stroke="#000" stroke-width="1.8" />
<text x="178.00" y="362.65" font-size="23" text-anchor="end" >3000</text>
<line x1="187.70" y1="322.12" x2="192.60" y2="322.12" stroke="#000" stroke-width="1.8" />
<line x1="183.30" y1="288.00" x2="192.60" y2="288.00" stroke="#000" stroke-width="1.8" />
<text x="178.00" y="294.40" font-size="23" text-anchor="end" >4000</text>
<line x1="187.70" y1="253.88" x2="192.60" y2="253.88" stroke="#000" stroke-width="1.8" />
<line x1="183.30" y1="219.75" x2="192.60" y2="219.75" stroke="#000" stroke-width="1.8" />
<text x="178.00" y="226.15" font-size="23" text-anchor="end" >5000</text>
<line x1="187.70" y1="185.62" x2="192.60" y2="185.62" stroke="#000" stroke-width="1.8" />
<line x1="183.30" y1="151.50" x2="192.60" y2="151.50" stroke="#000" stroke-width="1.8" />
<text x="178.00" y="157.90" font-size="23" text-anchor="end" >6000</text>
<line x1="187.70" y1="117.37" x2="192.60" y2="117.37" stroke="#000" stroke-width="1.8" />
<line x1="183.30" y1="83.25" x2="192.60" y2="83.25" stroke="#000" stroke-width="1.8" />
<text x="178.00" y="89.65" font-size="23" text-anchor="end" >7000</text>
<line x1="187.70" y1="49.12" x2="192.60" y2="49.12" stroke="#000" stroke-width="1.8" />
<line x1="183.30" y1="15.00" x2="192.60" y2="15.00" stroke="#000" stroke-width="1.8" />
<text x="178.00" y="21.40" font-size="23" text-anchor="end" >8000</text>
<line x1="1078.60" y1="559.60" x2="1087.50" y2="559.60" stroke="#000" stroke-width="1.8" />
<text x="1087.80" y="563.00" font-size="23" text-anchor="start" >0</text>
<line x1="1078.60" y1="532.30" x2="1083.70" y2="532.30" stroke="#000" stroke-width="1.8" />
<line x1="1078.60" y1="505.00" x2="1087.50" y2="505.00" stroke="#000" stroke-width="1.8" />
<text x="1087.80" y="508.40" font-size="23" text-anchor="start" >10</text>
<line x1="1078.60" y1="477.70" x2="1083.70" y2="477.70" stroke="#000" stroke-width="1.8" />
<line x1="1078.60" y1="450.40" x2="1087.50" y2="450.40" stroke="#000" stroke-width="1.8" />
<text x="1087.80" y="453.80" font-size="23" text-anchor="start" >20</text>
<line x1="1078.60" y1="423.10" x2="1083.70" y2="423.10" stroke="#000" stroke-width="1.8" />
<line x1="1078.60" y1="395.80" x2="1087.50" y2="395.80" stroke="#000" stroke-width="1.8" />
<text x="1087.80" y="399.20" font-size="23" text-anchor="start" >30</text>
<line x1="1078.60" y1="368.50" x2="1083.70" y2="368.50" stroke="#000" stroke-width="1.8" />
<line x1="1078.60" y1="341.20" x2="1087.50" y2="341.20" stroke="#000" stroke-width="1.8" />
<text x="1087.80" y="344.60" font-size="23" text-anchor="start" >40</text>
<line x1="1078.60" y1="313.90" x2="1083.70" y2="313.90" stroke="#000" stroke-width="1.8" />
<line x1="1078.60" y1="286.60" x2="1087.50" y2="286.60" stroke="#000" stroke-width="1.8" />
<text x="1087.80" y="290.00" font-size="23" text-anchor="start" >50</text>
<line x1="1078.60" y1="259.30" x2="1083.70" y2="259.30" stroke="#000" stroke-width="1.8" />
<line x1="1078.60" y1="232.00" x2="1087.50" y2="232.00" stroke="#000" stroke-width="1.8" />
<text x="1087.80" y="235.40" font-size="23" text-anchor="start" >60</text>
<line x1="1078.60" y1="204.70" x2="1083.70" y2="204.70" stroke="#000" stroke-width="1.8" />
<line x1="1078.60" y1="177.40" x2="1087.50" y2="177.40" stroke="#000" stroke-width="1.8" />
<text x="1087.80" y="180.80" font-size="23" text-anchor="start" >70</text>
<line x1="1078.60" y1="150.10" x2="1083.70" y2="150.10" stroke="#000" stroke-width="1.8" />
<line x1="1078.60" y1="122.80" x2="1087.50" y2="122.80" stroke="#000" stroke-width="1.8" />
<text x="1087.80" y="126.20" font-size="23" text-anchor="start" >80</text>
<line x1="1078.60" y1="95.50" x2="1083.70" y2="95.50" stroke="#000" stroke-width="1.8" />
<line x1="1078.60" y1="68.20" x2="1087.50" y2="68.20" stroke="#000" stroke-width="1.8" />
<text x="1087.80" y="71.60" font-size="23" text-anchor="start" >90</text>
<line x1="1078.60" y1="40.90" x2="1083.70" y2="40.90" stroke="#000" stroke-width="1.8" />
<line x1="1078.60" y1="13.60" x2="1087.50" y2="13.60" stroke="#000" stroke-width="1.8" />
<text x="1087.80" y="17.00" font-size="23" text-anchor="start" >100</text>
<line x1="1167.00" y1="559.60" x2="1172.30" y2="559.60" stroke="#000" stroke-width="1.8" />
<line x1="1162.30" y1="530.86" x2="1172.00" y2="530.86" stroke="#000" stroke-width="1.8" />
<text x="1180.80" y="537.26" font-size="23" text-anchor="start" >20</text>
<line x1="1167.00" y1="502.12" x2="1172.30" y2="502.12" stroke="#000" stroke-width="1.8" />
<line x1="1162.30" y1="473.38" x2="1172.00" y2="473.38" stroke="#000" stroke-width="1.8" />
<text x="1180.80" y="479.78" font-size="23" text-anchor="start" >40</text>
<line x1="1167.00" y1="444.64" x2="1172.30" y2="444.64" stroke="#000" stroke-width="1.8" />
<line x1="1162.30" y1="415.90" x2="1172.00" y2="415.90" stroke="#000" stroke-width="1.8" />
<text x="1180.80" y="422.30" font-size="23" text-anchor="start" >60</text>
<line x1="1167.00" y1="387.16" x2="1172.30" y2="387.16" stroke="#000" stroke-width="1.8" />
<line x1="1162.30" y1="358.42" x2="1172.00" y2="358.42" stroke="#000" stroke-width="1.8" />
<text x="1180.80" y="364.82" font-size="23" text-anchor="start" >80</text>
<line x1="1167.00" y1="329.68" x2="1172.30" y2="329.68" stroke="#000" stroke-width="1.8" />
<line x1="1162.30" y1="300.94" x2="1172.00" y2="300.94" stroke="#000" stroke-width="1.8" />
<text x="1180.80" y="307.34" font-size="23" text-anchor="start" >100</text>
<line x1="1167.00" y1="272.20" x2="1172.30" y2="272.20" stroke="#000" stroke-width="1.8" />
<line x1="1162.30" y1="243.46" x2="1172.00" y2="243.46" stroke="#000" stroke-width="1.8" />
<text x="1180.80" y="249.86" font-size="23" text-anchor="start" >120</text>
<line x1="1167.00" y1="214.72" x2="1172.30" y2="214.72" stroke="#000" stroke-width="1.8" />
<line x1="1162.30" y1="185.98" x2="1172.00" y2="185.98" stroke="#000" stroke-width="1.8" />
<text x="1180.80" y="192.38" font-size="23" text-anchor="start" >140</text>
<line x1="1167.00" y1="157.24" x2="1172.30" y2="157.24" stroke="#000" stroke-width="1.8" />
<line x1="1162.30" y1="128.50" x2="1172.00" y2="128.50" stroke="#000" stroke-width="1.8" />
<text x="1180.80" y="134.90" font-size="23" text-anchor="start" >160</text>
<line x1="1167.00" y1="99.76" x2="1172.30" y2="99.76" stroke="#000" stroke-width="1.8" />
<line x1="1162.30" y1="71.02" x2="1172.00" y2="71.02" stroke="#000" stroke-width="1.8" />
<text x="1180.80" y="77.42" font-size="23" text-anchor="start" >180</text>
<line x1="1167.00" y1="42.28" x2="1172.30" y2="42.28" stroke="#000" stroke-width="1.8" />
<line x1="1162.30" y1="13.54" x2="1172.00" y2="13.54" stroke="#000" stroke-width="1.8" />
<text x="1180.80" y="19.94" font-size="23" text-anchor="start" >200</text>
<text transform="translate(18.4,342.6) rotate(-90)" font-size="26">OD<tspan dy="9.2">600</tspan></text>
<text transform="translate(116,420.2) rotate(-90)" font-size="25.85">Enzyme activity (U/g)</text>
<text transform="translate(1140,439.2) rotate(-90)" font-size="25.8">Glucose concentration (g/L)</text>
<text transform="translate(1242,432.3) rotate(-90)" font-size="25.85">Maltose concentration (g/L)</text>
<text x="484.6" y="634.6" font-size="25" textLength="185" lengthAdjust="spacingAndGlyphs">Fermentation time</text>
<path d="M696.6,616.4 Q683.6,626 696.6,635.4" fill="none" stroke="#000" stroke-width="1.4"/>
<text x="701.30" y="635.20" font-size="25" text-anchor="start" >h</text>
<path d="M718.1,616.4 Q731.1,626 718.1,635.4" fill="none" stroke="#000" stroke-width="1.4"/>
<line x1="228.80" y1="56.60" x2="245.50" y2="56.60" stroke="#333" stroke-width="1.2" />
<line x1="264.00" y1="56.60" x2="281.00" y2="56.60" stroke="#333" stroke-width="1.2" />
<path d="M248.37,56.60 L257.57,51.40 L257.57,61.80 Z" fill="#fff" stroke="#000" stroke-width="1.1"/>
<line x1="228.80" y1="92.90" x2="281.00" y2="92.90" stroke="#000" stroke-width="1.8" />
<path d="M254.50,86.60 L260.30,92.90 L254.50,99.20 L248.70,92.90 Z" fill="#000"/>
<line x1="228.80" y1="121.10" x2="245.50" y2="121.10" stroke="#333" stroke-width="1.2" />
<line x1="264.00" y1="121.10" x2="281.00" y2="121.10" stroke="#333" stroke-width="1.2" />
<path d="M248.30,117.43 L260.70,117.43 L254.50,128.43 Z" fill="#000" stroke="#000" stroke-width="0.6"/>
<line x1="228.80" y1="149.60" x2="245.50" y2="149.60" stroke="#333" stroke-width="1.2" />
<line x1="264.00" y1="149.60" x2="281.00" y2="149.60" stroke="#333" stroke-width="1.2" />
<path d="M254.50,143.60 L256.09,147.42 L260.21,147.75 L257.07,150.43 L258.03,154.45 L254.50,152.30 L250.97,154.45 L251.93,150.43 L248.79,147.75 L252.91,147.42 Z" fill="#fff" stroke="#000" stroke-width="1"/>
<text x="286.5" y="64.1" font-size="23.3">OD<tspan font-size="14.3" dy="9.3">600</tspan></text>
<text x="286.6" y="100.6" font-size="23.6" textLength="203.8" lengthAdjust="spacingAndGlyphs">Glucose concentration</text>
<text x="286.6" y="128.8" font-size="23.6" textLength="203.2" lengthAdjust="spacingAndGlyphs">Maltose concentration</text>
<text x="287" y="157.4" font-size="23.6" textLength="146" lengthAdjust="spacingAndGlyphs">Enzyme activity</text></svg>
</body></html>
